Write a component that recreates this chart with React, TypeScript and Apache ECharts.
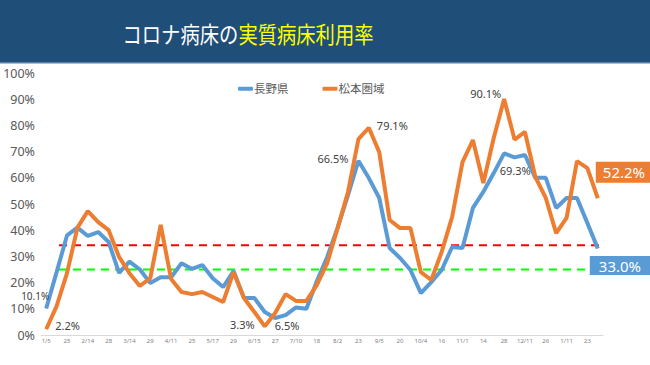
import React, { useEffect, useRef } from "react";
import * as echarts from "echarts";

const tickLabels = ["1/5","25","2/14","28","3/14","29","4/11","25","5/17","29","6/15","27","7/10","18","8/2","23","9/5","20","10/4","16","11/1","14","28","12/11","26","1/11","23"];

const naganoValues = [10.1, 24, 38, 41, 37.8, 39.3, 35.5, 23.7, 28, 25, 19.8, 22, 22, 27.4, 25.2, 26.7, 21.7, 18.3, 24.4, 14.1, 14.1, 8.8, 6.5, 7.6, 10.5, 10, 20.5, 29.8, 41, 53.4, 66.5, 59.9, 52.3, 33.2, 29.4, 24.8, 16, 20.2, 24.8, 33.6, 33.2, 48.5, 54.6, 61.8, 69.3, 67.8, 68.7, 60, 60, 48.5, 52.3, 52.3, 42.7, 33.0];

const matsumotoValues = [2.2, 11, 23.6, 41, 47.3, 43.1, 40, 29.8, 23.6, 18.7, 21.7, 42, 21.4, 16.4, 15.6, 16.4, 14.5, 12.6, 24, 14.1, 8.8, 3.3, 8.4, 15.6, 13, 13, 19, 27.4, 40.8, 54.6, 74.8, 79.1, 69.8, 43.9, 40.8, 40.8, 24, 21, 31.7, 45, 66, 74.4, 58, 75.2, 90.1, 74.6, 77.5, 60.3, 52.3, 38.9, 44.7, 66.4, 63.7, 52.2];

const seriesNames = ["長野県", "松本圏域"];
const thresholdValues = [34.3, 25];
const thresholdSpan = [1.23, 53.87];

const BLUE = "#5B9BD5";
const ORANGE = "#ED7D31";
const FONT = "'Noto Sans', 'Noto Sans CJK JP', sans-serif";

const categories = naganoValues.map((_, i) => String(i));

type LabelSpec = { index: number; position: string; offset: number[]; size?: number };

const naganoLabels: LabelSpec[] = [
  { index: 0, position: "top", offset: [-11, -3], size: 10 },
  { index: 22, position: "bottom", offset: [12, -3] },
  { index: 30, position: "left", offset: [-5, -2] },
  { index: 44, position: "bottom", offset: [11, 7] },
];
const matsumotoLabels: LabelSpec[] = [
  { index: 0, position: "right", offset: [4, -4] },
  { index: 21, position: "left", offset: [-5, -2] },
  { index: 31, position: "right", offset: [3, -2] },
  { index: 44, position: "left", offset: [2, -5] },
];

function buildData(values: number[], specs: LabelSpec[], color: string, endOffset: number[], endPad: number[]) {
  return values.map((v, i) => {
    const spec = specs.find((s) => s.index === i);
    if (spec) {
      const fs = spec.size || 11;
      return {
        value: v,
        label: {
          show: true,
          position: spec.position,
          offset: spec.offset,
          distance: 5,
          formatter: v.toFixed(1) + "%",
          fontSize: fs,
          lineHeight: fs,
          color: "#404040",
          fontFamily: FONT,
        },
      };
    }
    if (i === values.length - 1) {
      return {
        value: v,
        label: {
          show: true,
          position: "right",
          distance: 0,
          offset: endOffset,
          formatter: v.toFixed(1) + "%",
          fontSize: 15,
          color: "#ffffff",
          backgroundColor: color,
          padding: endPad,
          fontFamily: FONT,
        },
      };
    }
    return v;
  });
}

export default function App() {
  const ref = useRef<HTMLDivElement>(null);
  useEffect(() => {
    if (!ref.current) return;
    const chart = echarts.init(ref.current, null, { renderer: "svg" });
    const option: any = {
      animation: false,
      backgroundColor: "#ffffff",
      textStyle: { fontFamily: FONT },
      grid: { left: 41, right: 47, top: 73, bottom: 30 },
      legend: {
        data: seriesNames,
        top: 83,
        left: 238,
        padding: 0,
        icon: "roundRect",
        itemWidth: 15,
        itemHeight: 4,
        itemGap: 34,
        textStyle: { fontSize: 11.5, color: "#595959", padding: [0, 0, 0, -4] },
      },
      xAxis: [
        {
          type: "category",
          data: categories,
          boundaryGap: true,
          axisLine: { lineStyle: { color: "#d9d9d9" } },
          axisTick: { show: false },
          axisLabel: {
            interval: 0,
            fontSize: 6,
            color: "#7f7f7f",
            margin: 3,
            formatter: (_: string, idx: number) => (idx % 2 === 0 ? tickLabels[idx / 2] : ""),
          },
        },
        { type: "value", min: -0.5, max: 53.5, show: false },
      ],
      yAxis: {
        type: "value",
        min: 0,
        max: 100,
        interval: 10,
        axisLine: { show: false },
        axisTick: { show: false },
        splitLine: { show: false },
        axisLabel: { formatter: "{value}%", fontSize: 12.5, lineHeight: 12.5, color: "#595959", margin: 6 },
      },
      series: [
        {
          name: "threshold-red",
          type: "line",
          xAxisIndex: 1,
          data: [[thresholdSpan[0], thresholdValues[0]], [thresholdSpan[1], thresholdValues[0]]],
          symbol: "none",
          clip: false,
          silent: true,
          z: 1,
          lineStyle: { color: "#FF0000", width: 2, type: [8, 6] },
        },
        {
          name: "threshold-green",
          type: "line",
          xAxisIndex: 1,
          data: [[thresholdSpan[0], thresholdValues[1]], [thresholdSpan[1], thresholdValues[1]]],
          symbol: "none",
          clip: false,
          silent: true,
          z: 1,
          lineStyle: { color: "#00FF00", width: 2, type: [8, 6] },
        },
        {
          name: seriesNames[0],
          type: "line",
          data: buildData(naganoValues, naganoLabels, BLUE, [-8, 17], [2, 9]),
          symbol: "circle",
          symbolSize: 0,
          showSymbol: true,
          z: 3,
          itemStyle: { color: BLUE },
          lineStyle: { color: BLUE, width: 4 },
        },
        {
          name: seriesNames[1],
          type: "line",
          data: buildData(matsumotoValues, matsumotoLabels, ORANGE, [-2, -26], [3, 7]),
          symbol: "circle",
          symbolSize: 0,
          showSymbol: true,
          z: 4,
          itemStyle: { color: ORANGE },
          lineStyle: { color: ORANGE, width: 4 },
        },
      ],
      graphic: [
        { type: "rect", left: 0, top: 0, shape: { width: 650, height: 62 }, style: { fill: "#1F4E79" }, z: 10 },
        { type: "rect", left: 0, top: 62, shape: { width: 650, height: 1.5 }, style: { fill: "#5B7FA6" }, z: 10 },
        {
          type: "text",
          x: 248,
          y: 33,
          scaleX: 0.84,
          z: 11,
          style: {
            text: "{w|コロナ病床の}{y|実質病床利用率}",
            align: "center",
            verticalAlign: "middle",
            rich: {
              w: { fill: "#ffffff", fontSize: 23, fontFamily: "'Noto Sans CJK JP', sans-serif" },
              y: { fill: "#FFFF00", fontSize: 23, fontFamily: "'Noto Sans CJK JP', sans-serif" },
            },
          },
        },
        {
          type: "group",
          left: 457,
          top: 9,
          z: 11,
          children: [
            { type: "rect", shape: { x: 0, y: 0, width: 51, height: 38 }, style: { fill: "#ffffff", stroke: "#888888", lineWidth: 0.6 } },
            { type: "line", shape: { x1: 0, y1: 12.5, x2: 51, y2: 12.5 }, style: { stroke: "#888888", lineWidth: 0.6 } },
            { type: "line", shape: { x1: 0, y1: 25.5, x2: 51, y2: 25.5 }, style: { stroke: "#888888", lineWidth: 0.6 } },
            { type: "text", x: 25.5, y: 6.5, style: { text: "市長記者会見資料", align: "center", verticalAlign: "middle", fontSize: 5.6, fill: "#111", fontFamily: "'Noto Sans CJK JP', sans-serif" } },
            { type: "text", x: 25.5, y: 19.3, style: { text: "5  .  1  .  3  1", align: "center", verticalAlign: "middle", fontSize: 6.5, fill: "#111", fontFamily: "'DejaVu Sans Mono', monospace" } },
            { type: "text", x: 25.5, y: 32, style: { text: "保 健 予 防 課", align: "center", verticalAlign: "middle", fontSize: 6, fill: "#111", fontFamily: "'Noto Sans CJK JP', sans-serif" } },
          ],
        },
      ],
    };
    chart.setOption(option);
    return () => chart.dispose();
  }, []);
  return (
    <div
      ref={ref}
      style={{ position: "fixed", left: 0, top: 0, width: 650, height: 365, background: "#fff" }}
    />
  );
}
